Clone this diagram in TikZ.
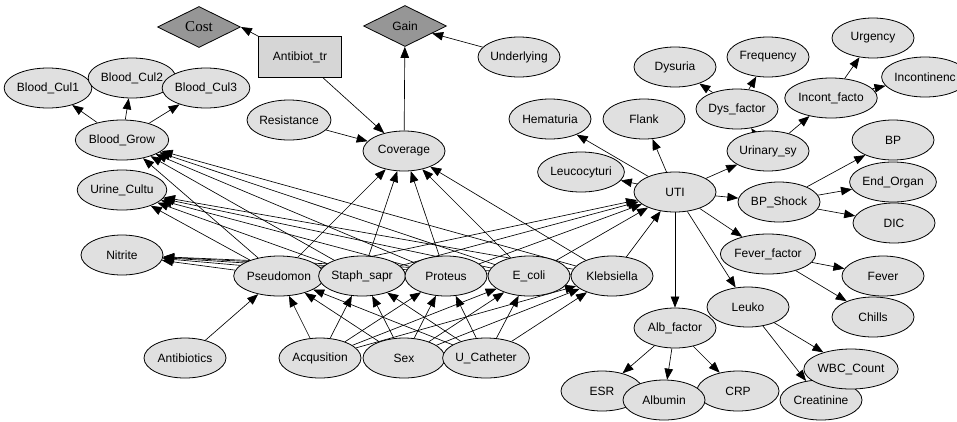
\documentclass[tikz,border=0pt]{standalone}
\usepackage{fontspec}
\setmainfont{Liberation Sans}
\newfontfamily\costfont{Liberation Serif}
\usetikzlibrary{shapes.geometric,arrows.meta}
\pgfdeclarelayer{edgelayer}
\pgfsetlayers{edgelayer,main}
\definecolor{nodegray}{RGB}{224,224,224}
\definecolor{diagray}{RGB}{150,150,150}
\definecolor{rectgray}{RGB}{214,214,214}
\tikzset{
  var/.style={ellipse,draw=black,fill=nodegray,line width=0.8pt,minimum width=82pt,minimum height=40pt,inner sep=0pt,font=\fontsize{12}{14}\selectfont},
  util/.style={diamond,draw=black,fill=diagray,line width=0.8pt,minimum width=83pt,minimum height=41pt,inner sep=0pt,font=\fontsize{12}{14}\selectfont},
  deci/.style={rectangle,draw=black,fill=rectgray,line width=0.8pt,minimum width=83pt,minimum height=41pt,inner sep=0pt,font=\fontsize{12}{14}\selectfont},
  arc/.style={-{Triangle[length=11pt,width=8.5pt]},line width=0.65pt,draw=black}
}
\begin{document}
\begin{tikzpicture}[x=1pt,y=-1pt]
\useasboundingbox (0,0) rectangle (957,421);
% decision / utility
\node[util,font=\costfont\fontsize{15}{17}\selectfont] (Cost) at (199,27) {Cost};
\node[deci] (Antibiot) at (300,57) {Antibiot\_tr};
\node[util] (Gain) at (405,26) {Gain};
\node[var] (Underlying) at (519,57) {Underlying};
% left
\node[var] (BloodCul1) at (48,88) {Blood\_Cul1};
\node[var] (BloodCul2) at (132,78) {Blood\_Cul2};
\node[var] (BloodCul3) at (206,88) {Blood\_Cul3};
\node[var] (BloodGrow) at (122,140) {Blood\_Grow};
\node[var] (Resistance) at (289,120) {Resistance};
\node[var] (Coverage) at (404,151) {Coverage};
\node[var] (UrineCultu) at (122,190) {Urine\_Cultu};
\node[var] (Nitrite) at (122,255) {Nitrite};
% bacteria
\node[var] (Pseudomon) at (279,276) {Pseudomon};
\node[var] (Staph) at (362,276) {Staph\_sapr};
\node[var] (Proteus) at (446,276) {Proteus};
\node[var] (Ecoli) at (529,276) {E\_coli};
\node[var] (Kleb) at (612,276) {Klebsiella};
% bottom
\node[var] (Antibiotics) at (185,358) {Antibiotics};
\node[var] (Acqusition) at (320,358) {Acqusition};
\node[var] (Sex) at (404,358) {Sex};
\node[var] (UCath) at (486,358) {U\_Catheter};
% right
\node[var] (Hematuria) at (550,119) {Hematuria};
\node[var] (Flank) at (644,119) {Flank};
\node[var] (Leucocyturi) at (581,172) {Leucocyturi};
\node[var] (UTI) at (675,192) {UTI};
\node[var] (Urinary) at (768,151) {Urinary\_sy};
\node[var] (Dysuria) at (675,67) {Dysuria};
\node[var] (Frequency) at (768,57) {Frequency};
\node[var] (DysFactor) at (737,109) {Dys\_factor};
\node[var] (Incont) at (831,98) {Incont\_facto};
\node[var] (Urgency) at (873,38) {Urgency};
\node[var] (Incontinenc) at (925,77) {Incontinenc};
\node[var] (BP) at (893,140) {BP};
\node[var] (DIC) at (894,223) {DIC};
\node[var] (EndOrgan) at (893,182) {End\_Organ};
\node[var] (BPShock) at (779,202) {BP\_Shock};
\node[var] (FeverFactor) at (768,254) {Fever\_factor};
\node[var] (Fever) at (883,276) {Fever};
\node[var] (Chills) at (873,317) {Chills};
\node[var] (Leuko) at (748,307) {Leuko};
\node[var] (AlbFactor) at (675,328) {Alb\_factor};
\node[var] (ESR) at (602,391) {ESR};
\node[var] (CRP) at (738,391) {CRP};
\node[var] (Albumin) at (664,400) {Albumin};
\node[var] (Creatinine) at (821,400) {Creatinine};
\node[var] (WBC) at (851,369) {WBC\_Count};
\begin{pgfonlayer}{edgelayer}
\draw[arc] (Antibiot.north west) -- (Cost.east);
\draw[arc] (Antibiot) -- (Coverage);
\draw[arc] (Resistance) -- (Coverage);
\draw[arc] (Coverage) -- (Gain);
\draw[arc] (Underlying) -- (Gain);
\foreach \t in {BloodCul1,BloodCul2,BloodCul3} \draw[arc] (BloodGrow) -- (\t);
\foreach \b in {Pseudomon,Staph,Proteus,Ecoli,Kleb}{
  \foreach \t in {BloodGrow,UrineCultu,Nitrite,Coverage,UTI} \draw[arc] (\b) -- (\t);
  \foreach \s in {Acqusition,Sex,UCath} \draw[arc] (\s) -- (\b);
}
\draw[arc] (Antibiotics) -- (Pseudomon);
\foreach \t in {Hematuria,Flank,Leucocyturi,Urinary,BPShock,FeverFactor,Leuko,AlbFactor} \draw[arc] (UTI) -- (\t);
\draw[arc] (Urinary) -- (DysFactor);
\draw[arc] (Urinary) -- (Incont);
\draw[arc] (DysFactor) -- (Dysuria);
\draw[arc] (DysFactor) -- (Frequency);
\draw[arc] (Incont) -- (Urgency);
\draw[arc] (Incont) -- (Incontinenc);
\foreach \t in {BP,EndOrgan,DIC} \draw[arc] (BPShock) -- (\t);
\draw[arc] (FeverFactor) -- (Fever);
\draw[arc] (FeverFactor) -- (Chills);
\draw[arc] (Leuko) -- (WBC);
\draw[arc] (Leuko) -- (Creatinine);
\foreach \t in {ESR,Albumin,CRP} \draw[arc] (AlbFactor) -- (\t);
\end{pgfonlayer}
\end{tikzpicture}
\end{document}
